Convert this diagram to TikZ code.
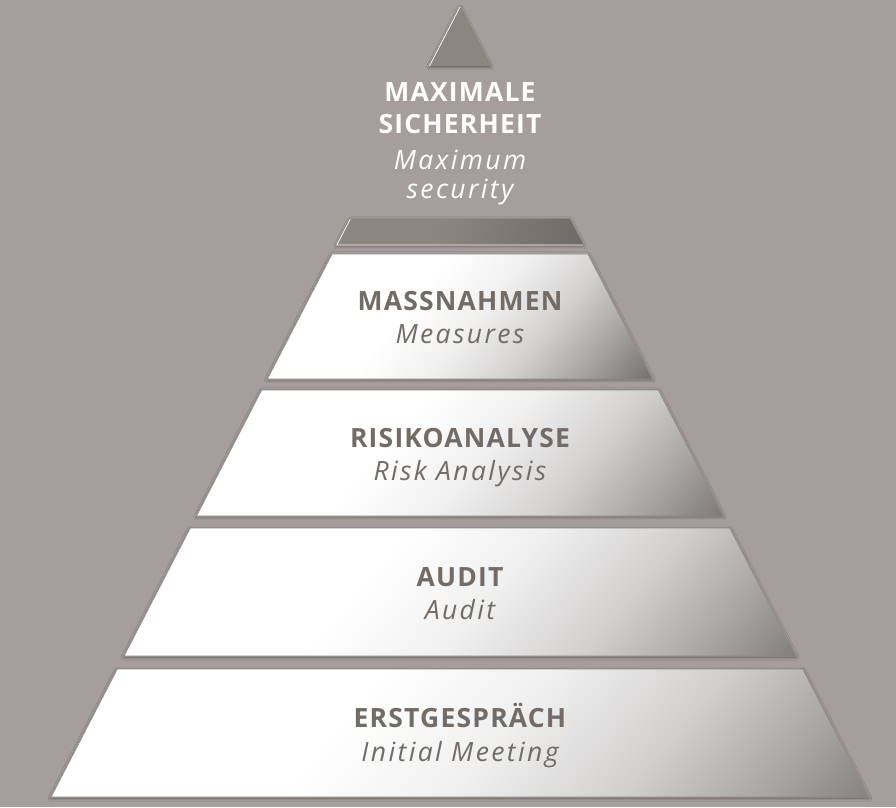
\documentclass[tikz,border=0pt]{standalone}
\usepackage{fontspec}
\setmainfont{Open Sans}
\usetikzlibrary{shadows.blur}
\definecolor{bg}{HTML}{A59E9C}
\definecolor{labelgray}{HTML}{736B66}
\definecolor{tipgray}{HTML}{8D8580}
\definecolor{banddark}{HTML}{6E6967}
\definecolor{edgegray}{HTML}{8F8886}
\definecolor{shadelight}{HTML}{D2D0CF}
\definecolor{shademid}{HTML}{A6A3A2}
\definecolor{shadedark}{HTML}{6F6B6A}
\pgfdeclarehorizontalshading{layershade}{100bp}{color(0bp)=(white); color(44bp)=(white); color(52bp)=(white!94!black); color(60bp)=(shadelight); color(67bp)=(shademid); color(75bp)=(shadedark); color(100bp)=(shadedark)}
\pgfdeclarehorizontalshading{bandshade}{100bp}{color(0bp)=(tipgray); color(45bp)=(tipgray); color(75bp)=(banddark); color(100bp)=(banddark)}
\newcommand{\headtext}[1]{{\bfseries\addfontfeatures{LetterSpace=4.5}#1}}
\newcommand{\subtext}[1]{{\itshape\addfontfeatures{LetterSpace=9}#1}}
\tikzset{
  layershadow/.style={blur shadow={shadow xshift=0pt, shadow yshift=-1pt, shadow blur radius=3pt, shadow opacity=45}},
  headlabel/.style={anchor=base, font=\fontsize{26.5}{30}\selectfont, inner sep=0pt},
}
% #1 = top y, #2 = bottom y
\newcommand{\pyrlayer}[2]{%
  \pgfmathsetmacro{\layerT}{0.5175*(800-#1)}%
  \pgfmathsetmacro{\layerB}{0.5175*(800-#2)}%
  \fill[white, layershadow] ({460-\layerT},#1) -- ({460+\layerT},#1) -- ({460+\layerB},#2) -- ({460-\layerB},#2) -- cycle;
  \begin{scope}
    \clip ({460-\layerT},#1) -- ({460+\layerT},#1) -- ({460+\layerB},#2) -- ({460-\layerB},#2) -- cycle;
    \shade[shading=layershade, shading angle=-40] ({460-\layerB},{(#1+#2)/2-\layerB}) rectangle ({460+\layerB},{(#1+#2)/2+\layerB});
  \end{scope}
  \draw[edgegray, line width=.6pt] ({460-\layerT},#1) -- ({460+\layerT},#1) -- ({460+\layerB},#2) -- ({460-\layerB},#2) -- cycle;
}
\begin{document}
\begin{tikzpicture}[x=1pt, y=1pt]
\useasboundingbox[fill=bg] (0,0) rectangle (896,807);
\fill[tipgray, layershadow] (460,800) -- (490.5,741) -- (429.5,741) -- cycle;
\draw[white, line width=.7pt] (429.5,741) -- (460,800);
\fill[tipgray, layershadow] (350.3,588) -- (569.7,588) -- (583.2,562) -- (336.8,562) -- cycle;
\begin{scope}
  \clip (350.3,588) -- (569.7,588) -- (583.2,562) -- (336.8,562) -- cycle;
  \shade[shading=bandshade, shading angle=-20] (336.8,452) rectangle (583.2,698);
\end{scope}
\draw[white, line width=.7pt] (350.3,588) -- (336.8,562) -- (583.2,562);
\pyrlayer{553}{428}
\pyrlayer{417}{291}
\pyrlayer{279}{151}
\pyrlayer{138}{10}
\node[headlabel, white] (topde1) at (460,705) {\headtext{MAXIMALE}};
\node[headlabel, white] (topde2) at (460,673) {\headtext{SICHERHEIT}};
\node[headlabel, white] (topen1) at (460,637) {\subtext{Maximum}};
\node[headlabel, white] (topen2) at (460,608) {\subtext{security}};
\node[headlabel, labelgray] (measde) at (460,496) {\headtext{MASSNAHMEN}};
\node[headlabel, labelgray] (measen) at (460,464) {\subtext{Measures}};
\node[headlabel, labelgray] (riskde) at (460,360) {\headtext{RISIKOANALYSE}};
\node[headlabel, labelgray] (risken) at (460,327) {\subtext{Risk Analysis}};
\node[headlabel, labelgray] (auditde) at (460,221) {\headtext{AUDIT}};
\node[headlabel, labelgray] (auditen) at (460,188) {\subtext{Audit}};
\node[headlabel, labelgray] (meetde) at (460,80) {\headtext{ERSTGESPRÄCH}};
\node[headlabel, labelgray] (meeten) at (460,46) {\subtext{Initial Meeting}};
\end{tikzpicture}
\end{document}
